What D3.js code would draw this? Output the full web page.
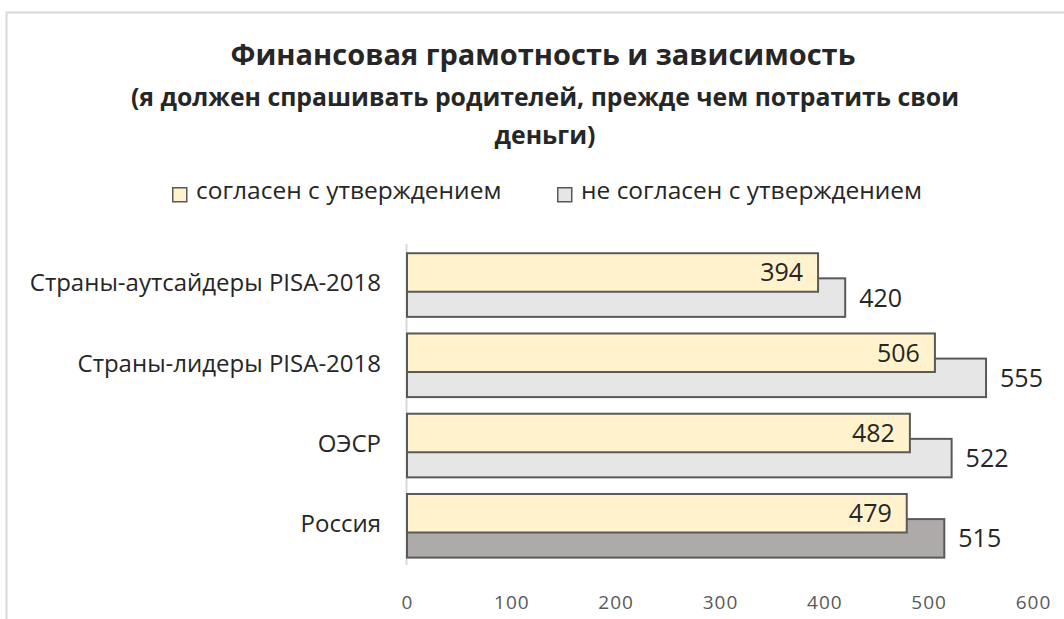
<!DOCTYPE html>
<html><head><meta charset="utf-8">
<script src="https://cdn.jsdelivr.net/npm/d3@7"></script>
<style>
html,body{margin:0;padding:0;background:#fff;}
text{font-family:"Open Sans",sans-serif;}
</style></head>
<body>
<svg id="chart" width="1064" height="619"></svg>
<script>
const categories = ["Страны-аутсайдеры PISA-2018", "Страны-лидеры PISA-2018", "ОЭСР", "Россия"];
const agreeValues = [394, 506, 482, 479];
const disagreeValues = [420, 555, 522, 515];
const seriesNames = ["согласен с утверждением", "не согласен с утверждением"];
const xTicks = [0, 100, 200, 300, 400, 500, 600];
const titleLines = ["Финансовая грамотность и зависимость"];
const subtitleLines = ["(я должен спрашивать родителей, прежде чем потратить свои", "деньги)"];

const svg = d3.select("#chart");
const W = 1064, H = 619;

// frame
svg.append("path").attr("d", `M6.5,${H} L6.5,12.5 L${W},12.5`)
  .attr("fill", "none").attr("stroke", "#d9d9d9").attr("stroke-width", 2);

const x = d3.scaleLinear().domain([0, 600]).range([407, 1033]);
const y = d3.scaleBand().domain(categories).range([244, 565]).padding(0);
const bw = y.bandwidth();
const barH = bw * 0.48;
const yellowOff = bw * 0.115;
const grayOff = bw * 0.428;

const YELLOW = "#FFF2CC", GRAY = "#E7E6E6", DARKGRAY = "#AEAAAA", STROKE = "#595959";

// title
svg.append("text").attr("x", 543).attr("y", 65).attr("text-anchor", "middle")
  .attr("font-size", 29).attr("font-weight", "bold").attr("fill", "#262626")
  .text(titleLines[0]);
subtitleLines.forEach((t, i) => {
  svg.append("text").attr("x", 545).attr("y", 106 + i * 38).attr("text-anchor", "middle")
    .attr("font-size", 24.8).attr("font-weight", "bold").attr("fill", "#262626").text(t);
});

// legend
const legendItems = [{x: 172, tx: 196, fill: YELLOW}, {x: 557, tx: 581, fill: GRAY}];
legendItems.forEach((d, i) => {
  svg.append("rect").attr("x", d.x + 0.75).attr("y", 187.75).attr("width", 14).attr("height", 14)
    .attr("fill", d.fill).attr("stroke", STROKE).attr("stroke-width", 1.5);
  svg.append("text").attr("x", d.tx).attr("y", 198.5).attr("font-size", 24.5).attr("fill", "#262626")
    .text(seriesNames[i]);
});

// y axis line
svg.append("line").attr("x1", 406.5).attr("x2", 406.5).attr("y1", 244).attr("y2", 565)
  .attr("stroke", "#d9d9d9").attr("stroke-width", 2);

// category labels
svg.selectAll(".cat").data(categories).enter().append("text")
  .attr("class", "cat").attr("x", 381).attr("y", d => y(d) + bw / 2 - 1.5)
  .attr("dy", "0.36em").attr("text-anchor", "end").attr("font-size", 24).attr("fill", "#262626")
  .text(d => d);

// gray bars
svg.selectAll(".gbar").data(categories).enter().append("rect")
  .attr("class", "gbar").attr("x", x(0)).attr("y", d => y(d) + grayOff)
  .attr("width", (d, i) => x(disagreeValues[i]) - x(0)).attr("height", barH)
  .attr("fill", d => d === "Россия" ? DARKGRAY : GRAY)
  .attr("stroke", STROKE).attr("stroke-width", 2);

// yellow bars
svg.selectAll(".ybar").data(categories).enter().append("rect")
  .attr("class", "ybar").attr("x", x(0)).attr("y", d => y(d) + yellowOff)
  .attr("width", (d, i) => x(agreeValues[i]) - x(0)).attr("height", barH)
  .attr("fill", YELLOW).attr("stroke", STROKE).attr("stroke-width", 2);

// value labels
svg.selectAll(".ylab").data(categories).enter().append("text")
  .attr("x", (d, i) => x(agreeValues[i]) - 15).attr("y", d => y(d) + yellowOff + barH / 2)
  .attr("dy", "0.36em").attr("text-anchor", "end").attr("font-size", 25).attr("fill", "#262626")
  .text((d, i) => agreeValues[i]);
svg.selectAll(".glab").data(categories).enter().append("text")
  .attr("x", (d, i) => x(disagreeValues[i]) + 14).attr("y", d => y(d) + grayOff + barH / 2)
  .attr("dy", "0.36em").attr("text-anchor", "start").attr("font-size", 25).attr("fill", "#262626")
  .text((d, i) => disagreeValues[i]);

// x axis tick labels
const xAxis = d3.axisBottom(x).tickValues(xTicks).tickSize(0).tickPadding(0);
const gx = svg.append("g").attr("transform", "translate(0,595)").call(xAxis);
gx.select(".domain").remove();
gx.selectAll("text").attr("font-family", "Open Sans, sans-serif").attr("font-size", 19)
  .attr("fill", "#595959").attr("letter-spacing", "1px").attr("dy", "0.72em");
</script>
</body></html>
